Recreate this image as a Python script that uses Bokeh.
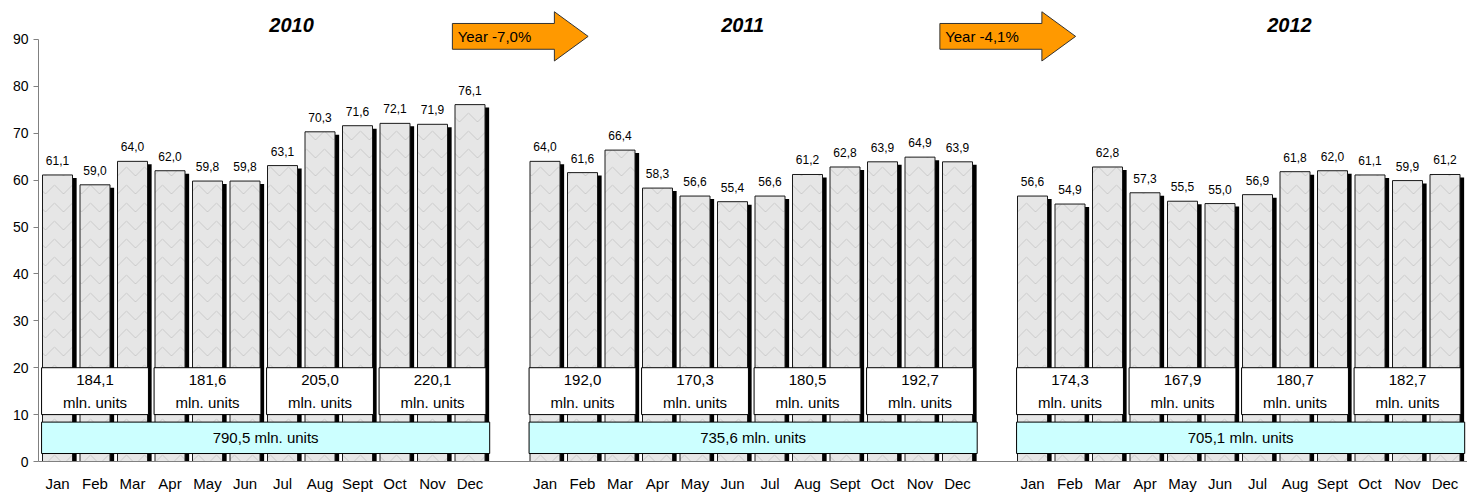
from bokeh.plotting import figure
from bokeh.models import ColumnDataSource, FixedTicker, LabelSet, Range1d
from bokeh.core.properties import value
from bokeh.transform import dodge
from bokeh.embed import file_html
from bokeh.resources import INLINE

# ---- data -------------------------------------------------------------
months = ["Jan", "Feb", "Mar", "Apr", "May", "Jun",
          "Jul", "Aug", "Sept", "Oct", "Nov", "Dec"]
years = ["2010", "2011", "2012"]

sales_2010 = [61.1, 59.0, 64.0, 62.0, 59.8, 59.8, 63.1, 70.3, 71.6, 72.1, 71.9, 76.1]
sales_2011 = [64.0, 61.6, 66.4, 58.3, 56.6, 55.4, 56.6, 61.2, 62.8, 63.9, 64.9, 63.9]
sales_2012 = [56.6, 54.9, 62.8, 57.3, 55.5, 55.0, 56.9, 61.8, 62.0, 61.1, 59.9, 61.2]

quarter_2010 = [184.1, 181.6, 205.0, 220.1]
quarter_2011 = [192.0, 170.3, 180.5, 192.7]
quarter_2012 = [174.3, 167.9, 180.7, 182.7]

year_totals = [790.5, 735.6, 705.1]
year_change = [-7.0, -4.1]

y_ticks = [0, 10, 20, 30, 40, 50, 60, 70, 80, 90]

FONT = "Liberation Sans"
GROUP = 13          # 12 months + one empty slot between years


def fmt(v):
    return f"{v:.1f}".replace(".", ",")


monthly = [sales_2010, sales_2011, sales_2012]
quarterly = [quarter_2010, quarter_2011, quarter_2012]

# ---- sources ----------------------------------------------------------
bx, bv, blab, bshadow = [], [], [], []
tick_labels = {}
for yi, series in enumerate(monthly):
    for mi, v in enumerate(series):
        slot = yi * GROUP + mi
        bx.append(slot)
        bv.append(v)
        blab.append(fmt(v))
        bshadow.append(v - 0.64)
        tick_labels[slot] = months[mi]
bars = ColumnDataSource(dict(x=bx, v=bv, label=blab, shadow_top=bshadow))

qx, qval, qunit = [], [], []
for yi, qs in enumerate(quarterly):
    for qi, q in enumerate(qs):
        qx.append(yi * GROUP + qi * 3 + 1)
        qval.append(fmt(q))
        qunit.append("mln. units")
quarters = ColumnDataSource(dict(x=qx, val=qval, unit=qunit))

yx = [yi * GROUP + 5.55 for yi in range(len(years))]
ylab = [f"{fmt(t)} mln. units" for t in year_totals]
totals = ColumnDataSource(dict(x=yx, label=ylab))

# ---- figure -----------------------------------------------------------
p = figure(width=1467, height=494,
           x_range=Range1d(-0.507, 37.6), y_range=Range1d(0, 98.3),
           output_backend="svg", toolbar_location=None,
           min_border_left=38, min_border_right=0,
           min_border_top=0, min_border_bottom=31)
p.grid.visible = False
p.outline_line_color = None
p.background_fill_color = "white"

# y axis
p.yaxis.ticker = FixedTicker(ticks=y_ticks)
p.yaxis.bounds = (0, 90)
p.yaxis.axis_line_color = "#808080"
p.yaxis.major_tick_line_color = "#808080"
p.yaxis.major_tick_out = 5
p.yaxis.major_tick_in = 0
p.yaxis.minor_tick_line_color = None
p.yaxis.major_label_standoff = 5
p.yaxis.major_label_text_font = FONT
p.yaxis.major_label_text_font_size = "14px"
p.yaxis.major_label_text_color = "black"

# x axis with month names
p.xaxis.ticker = FixedTicker(ticks=bx)
p.xaxis.major_label_overrides = tick_labels
p.xaxis.axis_line_color = "#808080"
p.xaxis.major_tick_line_color = None
p.xaxis.major_tick_out = 0
p.xaxis.major_tick_in = 0
p.xaxis.minor_tick_line_color = None
p.xaxis.major_label_standoff = 13
p.xaxis.major_label_text_font = FONT
p.xaxis.major_label_text_font_size = "15px"
p.xaxis.major_label_text_color = "black"

# bars with drop shadow and a soft marbled hatch
p.vbar(x=dodge("x", 0.11), top="shadow_top", width=0.8, source=bars,
       fill_color="black", line_color=None)
p.vbar(x="x", top="v", width=0.8, source=bars,
       fill_color="#e6e6e6", line_color="#1a1a1a", line_width=1,
       hatch_pattern="horizontal_wave", hatch_color="#a8a8a8",
       hatch_alpha=0.45, hatch_scale=18, hatch_weight=1)

p.add_layout(LabelSet(x="x", y="v", text="label", source=bars,
                      text_align="center", text_baseline="bottom",
                      y_offset=10, text_font=value(FONT),
                      text_font_size="12px", text_color="black"))

# quarter totals
p.rect(x="x", y=15, width=2.85, height=10, source=quarters,
       fill_color="white", line_color="black", line_width=1)
p.text(x="x", y=17.45, text="val", source=quarters,
       text_align="center", text_baseline="middle",
       text_font=value(FONT), text_font_size="15px", text_color="black")
p.text(x="x", y=12.6, text="unit", source=quarters,
       text_align="center", text_baseline="middle",
       text_font=value(FONT), text_font_size="15px", text_color="black")

# yearly totals
p.rect(x="x", y=5.05, width=11.95, height=6.7, source=totals,
       fill_color="#ccffff", line_color="black", line_width=1)
p.text(x="x", y=5.1, text="label", source=totals,
       text_align="center", text_baseline="middle",
       text_font=value(FONT), text_font_size="15px", text_color="black")

# year titles
title_x = [6.24, 18.27, 32.85]
p.text(x=title_x, y=[93.0] * 3, text=years,
       text_align="center", text_baseline="middle",
       text_font=value(FONT), text_font_size="20px",
       text_font_style="bold italic", text_color="black")


# year-over-year arrows
def arrow_shape(x0, yc=90.65):
    body, head = 2.72, 0.9
    bh, hh = 2.75, 5.25
    xs = [x0, x0 + body, x0 + body, x0 + body + head, x0 + body, x0 + body, x0]
    ys = [yc + bh, yc + bh, yc + hh, yc, yc - hh, yc - bh, yc - bh]
    return xs, ys


arrow_x = [yi * GROUP + 11 - 0.47 for yi in range(len(year_change))]
shapes = [arrow_shape(x0) for x0 in arrow_x]
p.patches(xs=[s[0] for s in shapes], ys=[s[1] for s in shapes],
          fill_color="#ff9900", line_color="#333333", line_width=1)
p.text(x=[x0 + 0.14 for x0 in arrow_x], y=[90.65] * len(arrow_x),
       text=[f"Year {fmt(c)}%" for c in year_change],
       text_align="left", text_baseline="middle",
       text_font=value(FONT), text_font_size="15px", text_color="black")

open("out.html", "w").write(file_html(p, INLINE))
